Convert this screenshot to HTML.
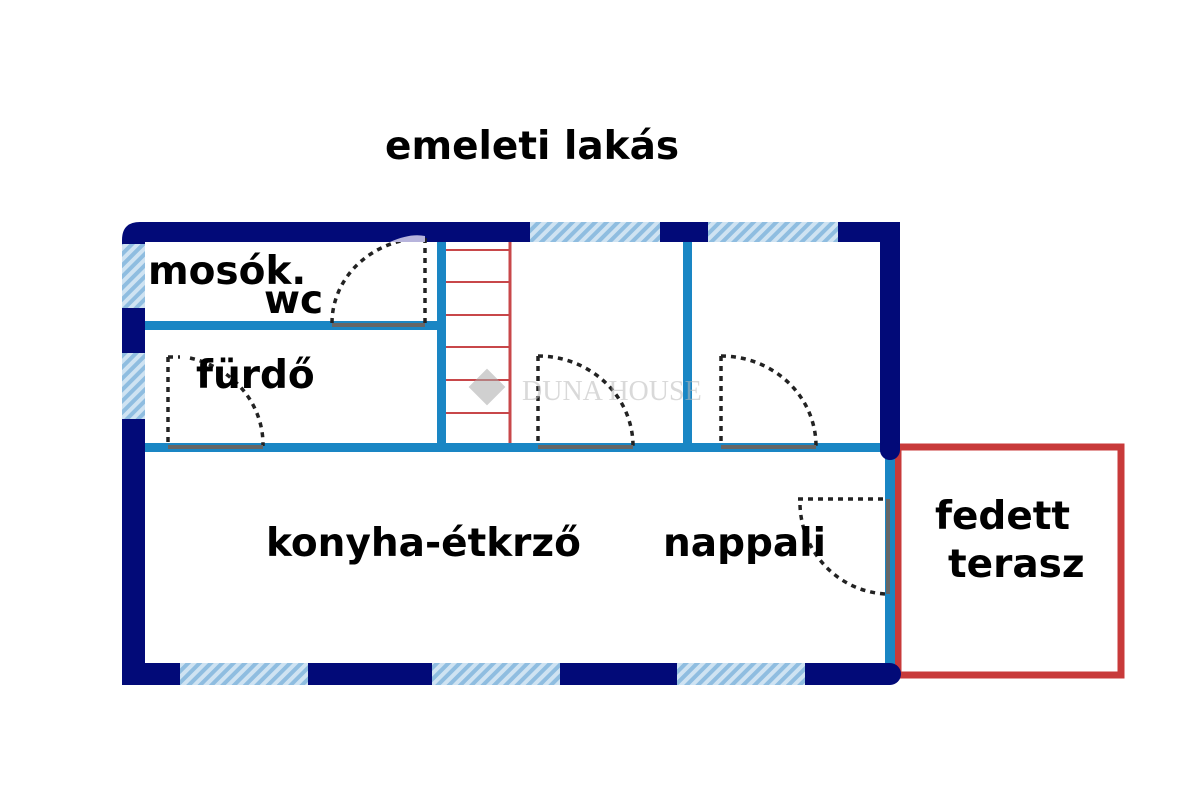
<!DOCTYPE html>
<html><head><meta charset="utf-8"><style>
html,body{margin:0;padding:0;background:#fff;}
svg{display:block}
text{font-family:"DejaVu Sans","Liberation Sans",sans-serif;font-weight:bold;fill:#000;}
</style></head><body>
<svg width="1200" height="785" viewBox="0 0 1200 785" xmlns="http://www.w3.org/2000/svg">
<defs>
<pattern id="h" width="8" height="8" patternUnits="userSpaceOnUse" patternTransform="rotate(45)">
<rect width="8" height="8" fill="#cfe3f2"/><rect width="4" height="8" fill="#8fbde0"/>
</pattern>
</defs>
<rect width="1200" height="785" fill="#fff"/>
<text x="385" y="159" font-size="39">emeleti lakás</text>

<!-- terrace -->
<rect x="898" y="447" width="223" height="228" fill="none" stroke="#c83a3a" stroke-width="7"/>

<!-- interior light blue walls -->
<g fill="#1a86c4">
<rect x="145" y="443" width="745" height="9"/>
<rect x="145" y="321" width="296" height="9"/>
<rect x="437" y="240" width="9" height="210"/>
<rect x="683" y="240" width="9" height="210"/>
<rect x="885" y="445" width="10" height="225"/>
</g>

<!-- stairs -->
<g stroke="#c8474a" stroke-width="3">
<line x1="510" y1="242" x2="510" y2="443"/>
<g stroke-width="2">
<line x1="446" y1="250" x2="510" y2="250"/>
<line x1="446" y1="282" x2="510" y2="282"/>
<line x1="446" y1="315" x2="510" y2="315"/>
<line x1="446" y1="347" x2="510" y2="347"/>
<line x1="446" y1="380" x2="510" y2="380"/>
<line x1="446" y1="413" x2="510" y2="413"/>
</g></g>

<!-- outer walls -->
<g fill="#020a78">
<path d="M122 240 Q122 222 140 222 L900 222 L900 242 L145 242 L145 685 L122 685 Z"/>
<rect x="880" y="222" width="20" height="228"/>
<circle cx="890" cy="450" r="10"/>
<path d="M122 663 L890 663 A11 11 0 0 1 890 685 L122 685 Z"/>
</g>
<g fill="url(#h)">
<rect x="530" y="222" width="130" height="20"/>
<rect x="708" y="222" width="130" height="20"/>
<rect x="122" y="244" width="23" height="64"/>
<rect x="122" y="353" width="23" height="66"/>
<rect x="180" y="663" width="128" height="22"/>
<rect x="432" y="663" width="128" height="22"/>
<rect x="677" y="663" width="128" height="22"/>
</g>

<!-- doors -->
<g fill="none" stroke="#222" stroke-width="3.5" stroke-dasharray="5,5">
<path d="M332 323 A93 85 0 0 1 425 238"/><line x1="425" y1="238" x2="425" y2="323"/>
<path d="M168 357 L180 357 M190 358 A95 89 0 0 1 263 446"/><line x1="168" y1="357" x2="168" y2="446"/>
<path d="M538 356 A95 90 0 0 1 633 446"/><line x1="538" y1="356" x2="538" y2="446"/>
<path d="M721 356 A95 90 0 0 1 816 446"/><line x1="721" y1="356" x2="721" y2="446"/>
<line x1="798" y1="499" x2="886" y2="499"/><path d="M800 505 A90 92 0 0 0 886 594"/>
</g>
<g stroke="#666" stroke-width="4">
<line x1="332" y1="325" x2="425" y2="325"/>
<line x1="168" y1="447" x2="263" y2="447"/>
<line x1="538" y1="447" x2="633" y2="447"/>
<line x1="721" y1="447" x2="816" y2="447"/>
<line x1="888" y1="499" x2="888" y2="594"/>
</g>
<path d="M390 242 Q410 233 425 236 L425 242 Z" fill="#b7b4dc"/>

<!-- watermark -->
<g opacity="0.55">
<rect x="474" y="374" width="26" height="26" transform="rotate(45 487 387)" fill="#aaa"/>
<text x="522" y="400" font-size="28" style="fill:#bbb;font-weight:normal;font-family:'Liberation Serif',serif">DUNA HOUSE</text>
</g>

<text x="148" y="284" font-size="39">mosók.</text>
<text x="264" y="313" font-size="39">wc</text>
<text x="196" y="388" font-size="39">fürdő</text>
<text x="266" y="556" font-size="39">konyha-étkrző</text>
<text x="663" y="556" font-size="39">nappali</text>
<text x="935" y="529" font-size="39">fedett</text>
<text x="948" y="577" font-size="39">terasz</text>
</svg>
</body></html>
